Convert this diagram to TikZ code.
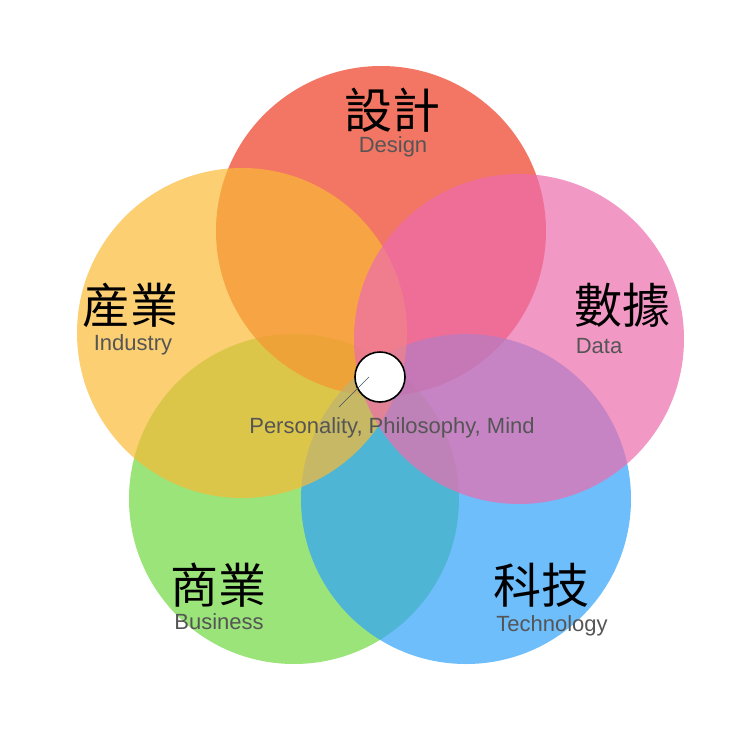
\documentclass[tikz,border=0pt]{standalone}
\usepackage{fontspec}
\newfontfamily\cjkfont{Noto Sans CJK TC}
\newfontfamily\latinfont{Liberation Sans}
\definecolor{designred}{RGB}{238,59,34}
\definecolor{dataPink}{RGB}{237,108,173}
\definecolor{techblue}{RGB}{48,162,251}
\definecolor{bizgreen}{RGB}{112,216,65}
\definecolor{indyellow}{RGB}{249,186,54}
\definecolor{labelgray}{RGB}{85,85,85}
\tikzset{
  petal/.style={circle, minimum size=330pt, inner sep=0pt, fill opacity=0.7},
  zh/.style={inner sep=0pt, font=\cjkfont\fontsize{48pt}{50pt}\selectfont},
  en/.style={anchor=base, inner sep=0pt, text=labelgray, font=\latinfont\fontsize{22pt}{24pt}\selectfont}
}
\begin{document}
\begin{tikzpicture}[x=1pt, y=-1pt]
\useasboundingbox (0,0) rectangle (740,740);

% petals, bottom to top
\node [petal, fill=bizgreen] (business) at (294,499) {};
\node [petal, fill=designred] (design) at (381,231) {};
\node [petal, fill=techblue] (technology) at (466,499) {};
\node [petal, fill=indyellow] (industry) at (242,333) {};
\node [petal, fill=dataPink] (data) at (519,339) {};

% labels
\node [zh] (designzh) at (392,110) {設計};
\node [en] (designen) at (393,152) {Design};
\node [zh] (industryzh) at (130,305) {産業};
\node [en] (industryen) at (133,350) {Industry};
\node [zh] (datazh) at (622,305) {數據};
\node [en] (dataen) at (599,353) {Data};
\node [zh] (businesszh) at (218,585) {商業};
\node [en] (businessen) at (219,629) {Business};
\node [zh] (technologyzh) at (541,585) {科技};
\node [en] (technologyen) at (552,631) {Technology};

% core
\node [circle, draw, line width=1.6pt, fill=white, minimum size=50pt, inner sep=0pt] (core) at (380,377) {};
\coordinate (coretip) at (369,377);
\coordinate (coretail) at (339,407);
\draw [line width=0.5pt, draw={rgb,255:red,70;green,85;blue,95}] (coretail) -- (coretip);
\node [en] (mind) at (392,433) {Personality, Philosophy, Mind};
\end{tikzpicture}
\end{document}
